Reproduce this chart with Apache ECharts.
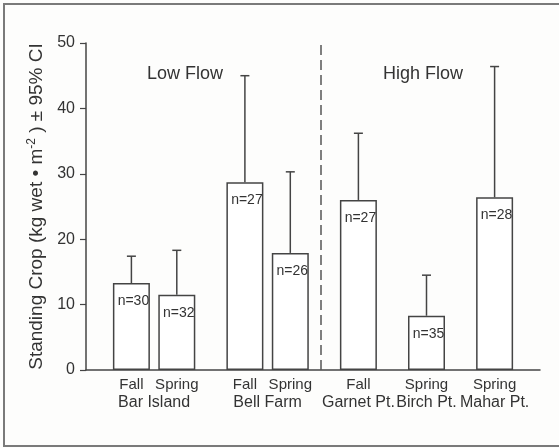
<!DOCTYPE html>
<html>
<head>
<meta charset="utf-8">
<script src="https://cdn.jsdelivr.net/npm/echarts@6/dist/echarts.min.js"></script>
<style>
html,body{margin:0;padding:0;background:#fdfdfc;}
#chart{width:559px;height:448px;}
</style>
</head>
<body>
<div id="chart"></div>
<script>
// ---- data ----
const seasons = ['Fall', 'Spring', 'Fall', 'Spring', 'Fall', 'Spring', 'Spring'];
const sites = ['Bar Island', 'Bell Farm', 'Garnet Pt.', 'Birch Pt.', 'Mahar Pt.'];
const siteOfBar = [0, 0, 1, 1, 2, 3, 4];
const meanCrop = [13.3, 11.5, 28.7, 17.9, 26.0, 8.3, 26.4];
const upperCI = [17.4, 18.3, 45.0, 30.3, 36.2, 14.5, 46.4];
const sampleN = [30, 32, 27, 26, 27, 35, 28];
const yTicks = [0, 10, 20, 30, 40, 50];
const groupLabels = ['Low Flow', 'High Flow'];

// ---- layout (positions along the x axis, not data) ----
const slot = [0, 2, 5, 7, 10, 13, 16];
const dividerAt = 8.35;

const siteCenter = sites.map((s, k) => {
  const xs = slot.filter((_, i) => siteOfBar[i] === k);
  return xs.reduce((a, b) => a + b, 0) / xs.length;
});

const textColor = '#333333';
const lineColor = '#444444';

const chart = echarts.init(document.getElementById('chart'), null, {renderer: 'canvas'});
chart.setOption({
  backgroundColor: '#fdfdfc',
  animation: false,
  textStyle: {fontFamily: 'Liberation Sans, Arial, sans-serif'},
  grid: {left: 86, right: 19, top: 43, bottom: 78},
  xAxis: {
    type: 'value', min: -2, max: 18, interval: 1,
    axisLine: {show: true, onZero: false, lineStyle: {color: lineColor, width: 1.5}},
    axisTick: {show: false},
    splitLine: {show: false},
    axisLabel: {
      show: true, margin: 6, showMinLabel: true, showMaxLabel: true,
      formatter: function (v) {
        const i = slot.indexOf(v);
        const k = siteCenter.indexOf(v);
        const a = i >= 0 ? seasons[i] : ' ';
        const b = k >= 0 ? sites[k] : ' ';
        return '{a|' + a + '}\n{b|' + b + '}';
      },
      rich: {
        a: {fontSize: 15, lineHeight: 18, color: textColor, fontFamily: 'Liberation Sans'},
        b: {fontSize: 16, lineHeight: 18, color: textColor, fontFamily: 'Liberation Sans'}
      }
    }
  },
  yAxis: {
    type: 'value', min: yTicks[0], max: yTicks[yTicks.length - 1], interval: 10,
    axisLine: {show: true, onZero: false, lineStyle: {color: lineColor, width: 1.5}},
    axisTick: {show: true, length: 6, lineStyle: {color: lineColor, width: 1.2}},
    splitLine: {show: false},
    axisLabel: {fontSize: 16, color: textColor, margin: 11, fontFamily: 'Liberation Sans'},
    name: '{a|Standing Crop (kg wet • m}{s|-2}{a| ) ± 95% CI}',
    nameLocation: 'middle',
    nameGap: 38,
    nameTextStyle: {
      rich: {
        a: {fontSize: 19, lineHeight: 22, color: textColor, fontFamily: 'Liberation Sans'},
        s: {fontSize: 12, lineHeight: 22, color: textColor, verticalAlign: 'top', fontFamily: 'Liberation Sans'}
      }
    }
  },
  series: [
    {
      type: 'bar',
      barWidth: 37,
      data: meanCrop.map((m, i) => [slot[i], m]),
      itemStyle: {color: '#ffffff', borderColor: lineColor, borderWidth: 1.5},
      label: {
        show: true, position: 'insideTop', distance: 11, offset: [2, 0],
        fontSize: 14, color: textColor, fontFamily: 'Liberation Sans',
        formatter: p => 'n=' + sampleN[p.dataIndex]
      },
      markLine: {
        silent: true, symbol: 'none',
        label: {show: false},
        lineStyle: {color: '#555', width: 1.5, type: [10, 5]},
        data: [{xAxis: dividerAt}]
      },
      z: 2
    },
    {
      type: 'custom',
      data: upperCI.map((u, i) => [slot[i], meanCrop[i], u]),
      renderItem: function (params, api) {
        const x = api.value(0);
        const lo = api.coord([x, api.value(1)]);
        const hi = api.coord([x, api.value(2)]);
        return {
          type: 'group',
          children: [
            {type: 'line', shape: {x1: lo[0], y1: lo[1], x2: hi[0], y2: hi[1]},
              style: {stroke: lineColor, lineWidth: 1.5}},
            {type: 'line', shape: {x1: hi[0] - 4.5, y1: hi[1], x2: hi[0] + 4.5, y2: hi[1]},
              style: {stroke: lineColor, lineWidth: 1.5}}
          ]
        };
      },
      z: 3
    }
  ],
  graphic: [
    {type: 'polyline', shape: {points: [[565, 4], [4, 4], [4, 446], [565, 446]]},
      style: {fill: 'none', stroke: '#7a7a7a', lineWidth: 2}, silent: true},
    {type: 'text', left: 147, top: 65,
      style: {text: groupLabels[0], fontSize: 18, fill: textColor, fontFamily: 'Liberation Sans'}},
    {type: 'text', left: 383, top: 65,
      style: {text: groupLabels[1], fontSize: 18, fill: textColor, fontFamily: 'Liberation Sans'}}
  ]
});
</script>
</body>
</html>
